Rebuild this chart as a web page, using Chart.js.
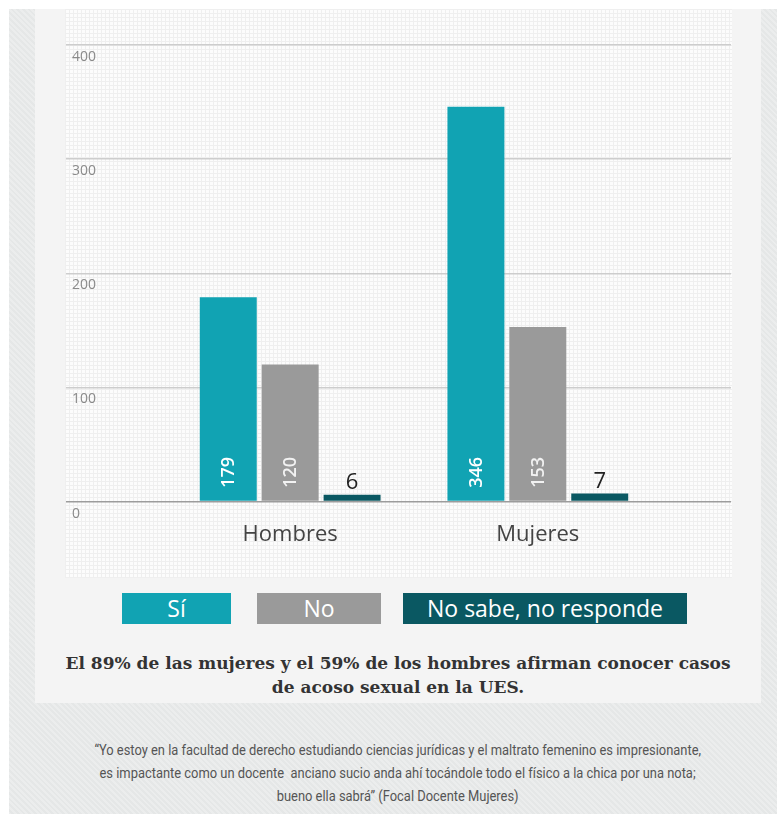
<!DOCTYPE html>
<html lang="es">
<head>
  <meta charset="UTF-8">
  <title>Conocimiento de casos de acoso sexual en la UES</title>
  <script src="https://cdn.jsdelivr.net/npm/chart.js"></script>
  <style>
    body {
      margin: 0;
      width: 777px;
      height: 814px;
      background: #fff;
      position: relative;
      overflow: hidden;
      font-family: 'Open Sans', sans-serif;
    }
    #bg {
      position: absolute;
      left: 9px; top: 9px; right: 0; bottom: 0;
      background-color: #e5e7e7;
      background-image: repeating-linear-gradient(45deg, rgba(255,255,255,0.25) 0 2px, transparent 2px 4px);
    }
    #panel {
      position: absolute;
      left: 35px; top: 9px;
      width: 726px; height: 694px;
      background: #f4f4f4;
    }
    #plotbg {
      position: absolute;
      left: 65px; top: 9px;
      width: 667px; height: 569px;
      background-color: #fcfcfc;
      background-image:
        repeating-linear-gradient(0deg, #efefef 0 1px, transparent 1px 4px),
        repeating-linear-gradient(90deg, #efefef 0 1px, transparent 1px 4px);
    }
    #chart {
      position: absolute;
      left: 54px; top: 9px;
    }
    .legend-box {
      position: absolute;
      top: 593px;
      height: 31px;
      line-height: 31px;
      text-align: center;
      font-size: 23px;
      color: #fff;
    }
    #caption {
      position: absolute;
      left: 35px; width: 726px;
      top: 651px;
      text-align: center;
      font-family: 'DejaVu Serif', serif;
      font-weight: bold;
      font-size: 17px;
      line-height: 24px;
      color: #333;
    }
    #quote {
      position: absolute;
      left: 9px; width: 778px;
      top: 739px;
      text-align: center;
      font-family: Roboto, sans-serif;
      font-size: 15px;
      line-height: 23px;
      color: #555;
    }
    #quote span {
      display: inline-block;
      transform: scaleX(0.86);
      transform-origin: center;
      white-space: nowrap;
    }
  </style>
</head>
<body>
  <div id="bg"></div>
  <div id="panel"></div>
  <div id="plotbg"></div>
  <canvas id="chart" width="678" height="569"></canvas>
  <div id="legend"></div>
  <div id="caption">El 89% de las mujeres y el 59% de los hombres afirman conocer casos<br>de acoso sexual en la UES.</div>
  <div id="quote">
    <span>“Yo estoy en la facultad de derecho estudiando ciencias jurídicas y el maltrato femenino es impresionante,</span><br>
    <span>es impactante como un docente&nbsp; anciano sucio anda ahí tocándole todo el físico a la chica por una nota;</span><br>
    <span>bueno ella sabrá” (Focal Docente Mujeres)</span>
  </div>
  <script>
    const categories = ['Hombres', 'Mujeres'];
    const seriesNames = ['Sí', 'No', 'No sabe, no responde'];
    const siValues = [179, 346];
    const noValues = [120, 153];
    const nsnrValues = [6, 7];
    const yTicks = [0, 100, 200, 300, 400];

    const colors = ['#11a3b3', '#9a9a9a', '#0a5862'];
    const insideText = ['#ffffff', '#f2f2f2', '#ffffff'];
    const legendPos = [[122, 109], [257, 124], [403, 284]];

    // legend boxes with the label inside
    const legend = document.getElementById('legend');
    seriesNames.forEach((name, i) => {
      const d = document.createElement('div');
      d.className = 'legend-box';
      d.style.left = legendPos[i][0] + 'px';
      d.style.width = legendPos[i][1] + 'px';
      d.style.background = colors[i];
      d.textContent = name;
      legend.appendChild(d);
    });

    // category i sits at x = i + 1 on a linear axis
    const toPoints = vals => vals.map((v, i) => ({ x: i + 1, y: v }));

    const barLabels = {
      id: 'barLabels',
      afterDatasetsDraw(chart) {
        const ctx = chart.ctx;
        chart.data.datasets.forEach((ds, i) => {
          chart.getDatasetMeta(i).data.forEach((bar, j) => {
            const v = ds.data[j].y;
            ctx.save();
            if (v > 50) {
              ctx.translate(bar.x, bar.base - 13);
              ctx.rotate(-Math.PI / 2);
              ctx.textAlign = 'left';
              ctx.textBaseline = 'middle';
              ctx.fillStyle = insideText[i];
              ctx.font = '600 18px "Open Sans"';
              ctx.fillText(String(v), 0, 1);
            } else {
              ctx.textAlign = 'center';
              ctx.textBaseline = 'alphabetic';
              ctx.fillStyle = '#222';
              ctx.font = '22px "Open Sans"';
              ctx.fillText(String(v), bar.x, bar.y - 6);
            }
            ctx.restore();
          });
        });
      }
    };

    const seriesValues = [siValues, noValues, nsnrValues];

    new Chart(document.getElementById('chart'), {
      type: 'bar',
      data: {
        datasets: seriesNames.map((name, i) => ({
          label: name,
          data: toPoints(seriesValues[i]),
          backgroundColor: colors[i],
          categoryPercentage: 0.75,
          barPercentage: 0.92
        }))
      },
      options: {
        responsive: false,
        devicePixelRatio: 1,
        animation: false,
        layout: { padding: { top: 36, right: 1, bottom: 18, left: 0 } },
        plugins: { legend: { display: false }, tooltip: { enabled: false } },
        scales: {
          x: {
            type: 'linear',
            min: 0.0948,
            max: 2.78,
            bounds: 'data',
            offset: false,
            afterBuildTicks: axis => { axis.ticks = categories.map((c, i) => ({ value: i + 1 })); },
            grid: { display: false },
            border: { display: false },
            ticks: {
              padding: 12,
              maxRotation: 0,
              autoSkip: false,
              color: '#444',
              font: { family: 'Open Sans', size: 22 },
              callback: v => categories[v - 1] || ''
            }
          },
          y: {
            min: 0,
            max: 400,
            afterBuildTicks: axis => { axis.ticks = yTicks.map(v => ({ value: v })); },
            grid: {
              drawTicks: false,
              lineWidth: 1.5,
              color: c => c.tick && c.tick.value === 0 ? '#9c9c9c' : '#cdcdcd'
            },
            border: { display: false },
            ticks: {
              mirror: true,
              padding: 6,
              labelOffset: 12,
              color: '#8a8a8a',
              font: { family: 'Open Sans', size: 14 }
            }
          }
        }
      },
      plugins: [barLabels]
    });
  </script>
</body>
</html>
